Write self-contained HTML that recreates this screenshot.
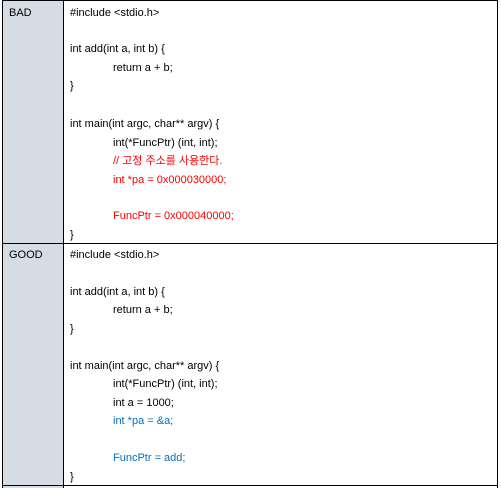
<!DOCTYPE html>
<html><head><meta charset="utf-8"><style>
body{margin:0;width:501px;height:488px;background:#fff;position:relative;overflow:hidden;font-family:"Liberation Sans","Noto Sans CJK KR",sans-serif;font-size:11px;color:#000}
.b{position:absolute;background:#000}
.t{position:absolute;white-space:pre;line-height:14px}
.r{color:#f00}.bl{color:#0070c0}
</style></head><body>
<div style="position:absolute;left:3px;top:1px;width:60px;height:487px;background:#d6dce4"></div>
<div class="b" style="left:2px;top:0;width:1px;height:488px"></div>
<div class="b" style="left:63px;top:0;width:1px;height:488px"></div>
<div class="b" style="left:497px;top:0;width:1px;height:488px"></div>
<div class="b" style="left:2px;top:0;width:496px;height:1px"></div>
<div class="b" style="left:2px;top:243px;width:496px;height:1px"></div>
<div class="b" style="left:2px;top:485px;width:496px;height:1px"></div>

<div class="t" style="left:9px;top:6px">BAD</div>
<div class="t" style="left:70px;top:6px">#include &lt;stdio.h&gt;</div>
<div class="t" style="left:70px;top:42px">int add(int a, int b) {</div>
<div class="t" style="left:113px;top:61px">return a + b;</div>
<div class="t" style="left:70px;top:79px">}</div>
<div class="t" style="left:70px;top:117px">int main(int argc, char** argv) {</div>
<div class="t" style="left:113px;top:136px">int(*FuncPtr) (int, int);</div>
<div class="t r" style="left:113px;top:154px">// 고정 주소를 사용한다.</div>
<div class="t r" style="left:113px;top:173px">int *pa = 0x000030000;</div>
<div class="t r" style="left:113px;top:209px">FuncPtr = 0x000040000;</div>
<div class="t" style="left:70px;top:228px">}</div>

<div class="t" style="left:9px;top:248px">GOOD</div>
<div class="t" style="left:70px;top:248px">#include &lt;stdio.h&gt;</div>
<div class="t" style="left:70px;top:285px">int add(int a, int b) {</div>
<div class="t" style="left:113px;top:303px">return a + b;</div>
<div class="t" style="left:70px;top:322px">}</div>
<div class="t" style="left:70px;top:359px">int main(int argc, char** argv) {</div>
<div class="t" style="left:113px;top:377px">int(*FuncPtr) (int, int);</div>
<div class="t" style="left:113px;top:396px">int a = 1000;</div>
<div class="t bl" style="left:113px;top:414px">int *pa = &amp;a;</div>
<div class="t bl" style="left:113px;top:451px">FuncPtr = add;</div>
<div class="t" style="left:70px;top:470px">}</div>
</body></html>
